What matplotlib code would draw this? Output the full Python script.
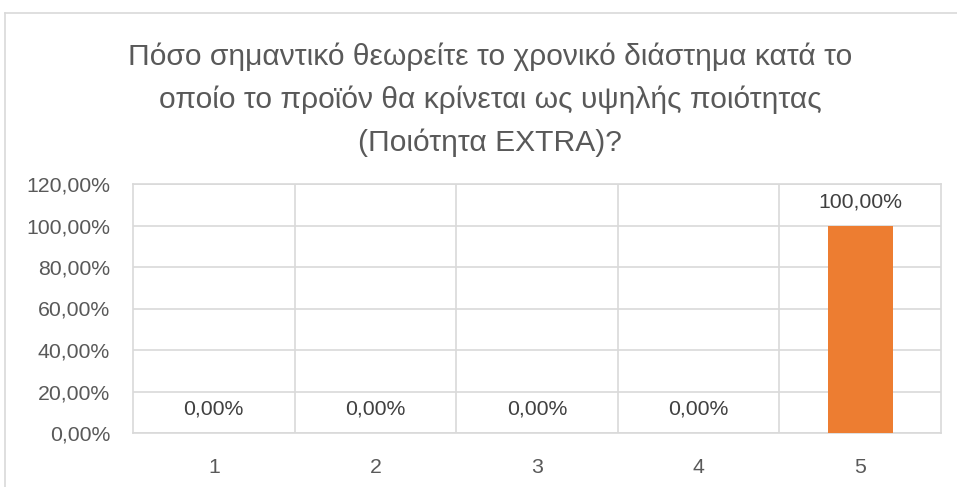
import matplotlib
matplotlib.use("Agg")
import matplotlib.pyplot as plt
from matplotlib.lines import Line2D

categories = ["1", "2", "3", "4", "5"]
values = [0.0, 0.0, 0.0, 0.0, 1.0]
labels = ["0,00%", "0,00%", "0,00%", "0,00%", "100,00%"]
yticks = [0, 0.2, 0.4, 0.6, 0.8, 1.0, 1.2]
ytick_labels = ["0,00%", "20,00%", "40,00%", "60,00%", "80,00%", "100,00%", "120,00%"]
title = "Πόσο σημαντικό θεωρείτε το χρονικό διάστημα κατά το\nοποίο το προϊόν θα κρίνεται ως υψηλής ποιότητας\n(Ποιότητα EXTRA)?"

plt.rcParams['font.family'] = ['Liberation Sans', 'DejaVu Sans']
W, H = 957, 487
fig = plt.figure(figsize=(W/100, H/100), dpi=100)
ax = fig.add_axes([133/W, 1-433/H, (941-133)/W, (433-184)/H])

x = list(range(len(categories)))
ax.bar(x, values, width=0.4, color="#ED7D31", zorder=3)
for xi, v, lab in zip(x, values, labels):
    ax.annotate(lab, (xi, v), xytext=(0, 24), textcoords="offset pixels",
                ha="center", va="center", fontsize=15.3, color="#404040")

ax.set_xlim(-0.5, len(categories)-0.5)
ax.set_ylim(0, 1.2)
ax.set_yticks(yticks)
ax.set_yticklabels(ytick_labels, fontsize=15.3, color="#595959")
ax.set_xticks(x)
ax.set_xticklabels(categories, fontsize=15.3, color="#595959")
ax.tick_params(length=0)
ax.tick_params(axis='y', pad=16.5)
ax.tick_params(axis='x', pad=18)
for yv in yticks:
    ax.axhline(yv, color="#D9D9D9", lw=1.2, zorder=1)
for b in [i + 0.5 for i in range(len(categories) - 1)]:
    ax.axvline(b, color="#D9D9D9", lw=1.2, zorder=1)
for s in ax.spines.values():
    s.set_color("#D9D9D9")
    s.set_linewidth(1.2)

fig.text(490/W, 1-100/H, title, ha="center", va="center", fontsize=21.6,
         color="#595959", linespacing=1.65)

fig.add_artist(Line2D([5/W, 5/W], [0, 1-13/H], transform=fig.transFigure, color="#D9D9D9", lw=1.2))
fig.add_artist(Line2D([5/W, 1], [1-13/H, 1-13/H], transform=fig.transFigure, color="#D9D9D9", lw=1.2))

fig.savefig("out.png", dpi=100)
